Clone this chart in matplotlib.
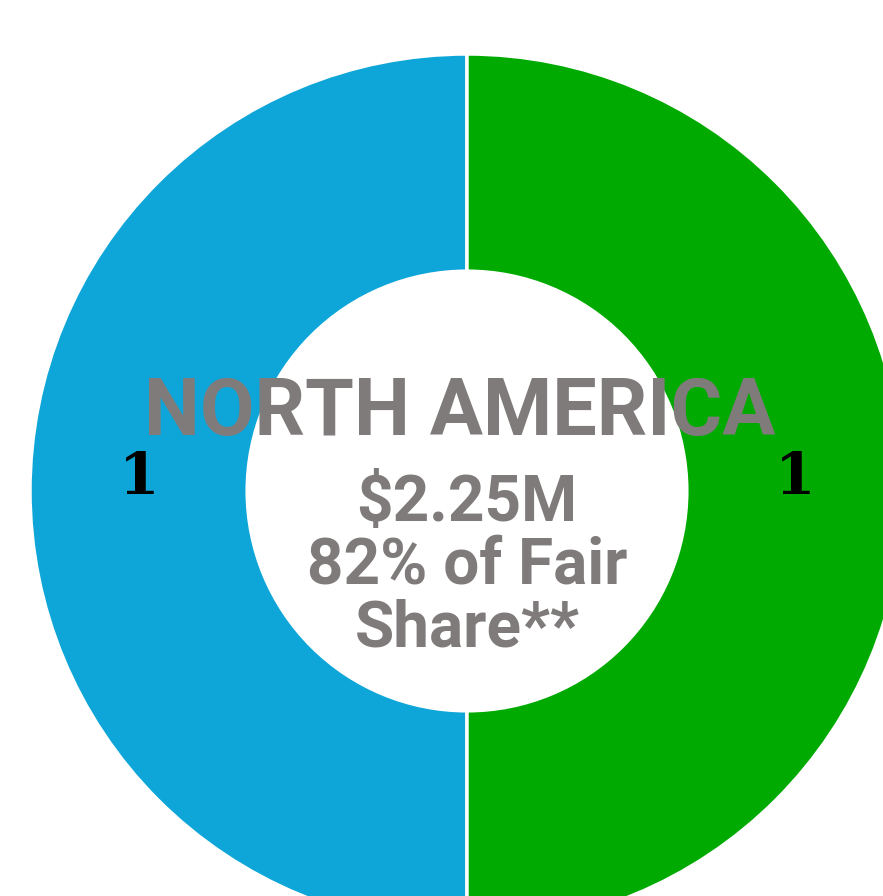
import matplotlib.pyplot as plt

# donut data
values = [1, 1]
colors = ["#0ea6d8", "#00aa00"]
title = "NORTH AMERICA"
center_lines = ["$2.25M", "82% of Fair", "Share**"]

fig = plt.figure(figsize=(8.83, 8.96), dpi=100)
ax = fig.add_axes([0, 0, 1, 1])

wedges, texts, autotexts = ax.pie(
    values, colors=colors, startangle=90, radius=1.0,
    wedgeprops=dict(width=0.497, edgecolor="white", linewidth=2.5),
    autopct=lambda p: f"{p * sum(values) / 100:.0f}", pctdistance=0.75,
)
for t in autotexts:
    t.set_fontfamily("DejaVu Serif")
    t.set_fontweight("bold")
    t.set_fontsize(42)
    t.set_color("black")
    t.set_va("baseline")
    x, y = t.get_position()
    t.set_position((x, y - 3 / 437))

# pixel -> data mapping: center at (467, 491), radius 437 px
ax.set_xlim(-467 / 437, (883 - 467) / 437)
ax.set_ylim(-(896 - 491) / 437, 491 / 437)
ax.set_aspect("auto")
ax.axis("off")

gray = "#7f7b7b"
ax.text(-7 / 437, (491 - 413) / 437, title, ha="center", va="center",
        fontsize=57, fontweight="bold", color=gray, family="Roboto")
ax.text(0, (491 - 566) / 437, "\n".join(center_lines), ha="center", va="center",
        fontsize=46, fontweight="bold", color=gray, family="Roboto",
        linespacing=1.04)

fig.savefig("out.png", dpi=100)
